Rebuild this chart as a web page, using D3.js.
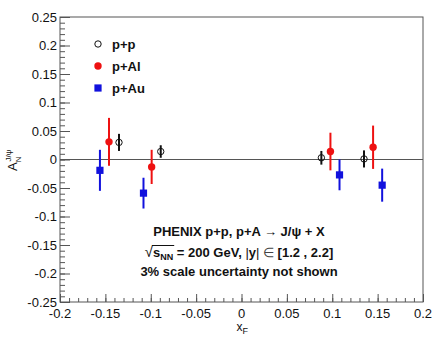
<!DOCTYPE html>
<html>
<head>
<meta charset="utf-8">
<script src="https://cdn.jsdelivr.net/npm/d3@7"></script>
<style>
  body { margin: 0; background: #fff; }
  text { font-family: "Liberation Sans", Arial, sans-serif; }
</style>
</head>
<body>
<script>
// x_F bins (slightly shifted per system, as in the plot)
const ppX = [-0.135, -0.089, 0.088, 0.135]
const ppA = [0.030, 0.014, 0.003, 0.001]
const ppErr = [0.015, 0.011, 0.012, 0.015]

const pAlX = [-0.146, -0.099, 0.098, 0.145]
const pAlA = [0.031, -0.013, 0.014, 0.0215]
const pAlErr = [0.042, 0.030, 0.033, 0.038]

const pAuX = [-0.156, -0.108, 0.108, 0.155]
const pAuA = [-0.019, -0.059, -0.027, -0.045]
const pAuErr = [0.036, 0.027, 0.027, 0.029]

const legendNames = ['p+p', 'p+Al', 'p+Au']
const xTicks = [-0.2, -0.15, -0.1, -0.05, 0, 0.05, 0.1, 0.15, 0.2]
const yTicks = [-0.25, -0.2, -0.15, -0.1, -0.05, 0, 0.05, 0.1, 0.15, 0.2, 0.25]

const W = 435, H = 344
const margin = { top: 17, right: 12, bottom: 42, left: 60 }

const svg = d3.select('body').append('svg')
  .attr('width', W).attr('height', H)

const x = d3.scaleLinear().domain([-0.2, 0.2]).range([margin.left, W - margin.right])
const y = d3.scaleLinear().domain([-0.25, 0.25]).range([H - margin.bottom, margin.top])

const fmt = v => v === 0 ? '0' : String(+v.toFixed(2))

// frame
svg.append('rect')
  .attr('x', x(-0.2)).attr('y', y(0.25))
  .attr('width', x(0.2) - x(-0.2)).attr('height', y(-0.25) - y(0.25))
  .attr('fill', 'none').attr('stroke', '#555').attr('stroke-width', 1)

// zero line
svg.append('line')
  .attr('x1', x(-0.2)).attr('x2', x(0.2))
  .attr('y1', y(0)).attr('y2', y(0))
  .attr('stroke', '#555').attr('stroke-width', 1.2)

// minor ticks
const xMinor = d3.range(-20, 21).map(i => i / 100)
const yMinor = d3.range(-25, 26).map(i => i / 100)

const xAxis = svg.append('g')
  .attr('transform', `translate(0,${y(-0.25)})`)
xAxis.call(d3.axisTop(x).tickValues(xMinor).tickSize(4).tickFormat(''))
xAxis.append('g').call(d3.axisTop(x).tickValues(xTicks).tickSize(8).tickFormat(''))
xAxis.selectAll('.domain').remove()
xAxis.selectAll('line').attr('stroke', '#555')
xAxis.selectAll('.xlab').data(xTicks).enter().append('text')
  .attr('x', d => x(d)).attr('y', 16)
  .attr('text-anchor', 'middle')
  .attr('font-size', 13).attr('fill', '#111')
  .text(fmt)

const yAxis = svg.append('g')
  .attr('transform', `translate(${x(-0.2)},0)`)
yAxis.call(d3.axisRight(y).tickValues(yMinor).tickSize(5).tickFormat(''))
yAxis.append('g').call(d3.axisRight(y).tickValues(yTicks).tickSize(10).tickFormat(''))
yAxis.selectAll('.domain').remove()
yAxis.selectAll('line').attr('stroke', '#555')
yAxis.selectAll('.ylab').data(yTicks).enter().append('text')
  .attr('x', -3).attr('y', d => y(d))
  .attr('dy', '0.36em')
  .attr('text-anchor', 'end')
  .attr('font-size', 13).attr('fill', '#111')
  .text(fmt)

// axis titles
const xt = svg.append('text')
  .attr('x', x(0) - 5).attr('y', 331)
  .attr('font-size', 12).attr('fill', '#111')
xt.append('tspan').text('x')
xt.append('tspan').attr('font-size', 9).attr('dy', 3).text('F')

const yt = svg.append('text')
  .attr('transform', 'translate(17,171) rotate(-90)')
  .attr('font-size', 13).attr('fill', '#111')
yt.append('tspan').text('A')
yt.append('tspan').attr('font-size', 8).attr('dy', 4).text('N')
yt.append('tspan').attr('font-size', 8).attr('dy', -10).attr('dx', -5).text('J/ψ')

// series
const series = [
  { xs: ppX, ys: ppA, es: ppErr, color: '#111', shape: 'open' },
  { xs: pAlX, ys: pAlA, es: pAlErr, color: '#ee1111', shape: 'dot' },
  { xs: pAuX, ys: pAuA, es: pAuErr, color: '#1111dd', shape: 'square' }
]

const drawMarker = (g, shape, color) => {
  if (shape === 'open') {
    g.append('circle').attr('r', 3.2)
      .attr('fill', 'none').attr('stroke', color).attr('stroke-width', 1)
  } else if (shape === 'dot') {
    g.append('circle').attr('r', 3.7).attr('fill', color)
  } else {
    g.append('rect').attr('x', -3.6).attr('y', -3.6)
      .attr('width', 7.2).attr('height', 7.2).attr('fill', color)
  }
}

series.forEach(s => {
  const pts = s.xs.map((v, i) => ({ x: v, y: s.ys[i], e: s.es[i] }))
  const g = svg.append('g')
  g.selectAll('line').data(pts).enter().append('line')
    .attr('x1', d => x(d.x)).attr('x2', d => x(d.x))
    .attr('y1', d => y(d.y + d.e)).attr('y2', d => y(d.y - d.e))
    .attr('stroke', s.color).attr('stroke-width', 2)
  pts.forEach(d => {
    drawMarker(g.append('g').attr('transform', `translate(${x(d.x)},${y(d.y)})`), s.shape, s.color)
  })
})

// legend
const leg = svg.append('g')
series.forEach((s, i) => {
  const ly = 44 + i * 22
  drawMarker(leg.append('g').attr('transform', `translate(98,${ly})`), s.shape, s.color)
  leg.append('text')
    .attr('x', 112).attr('y', ly).attr('dy', '0.36em')
    .attr('font-size', 13).attr('font-weight', 'bold').attr('fill', '#111')
    .text(legendNames[i])
})

// annotation
const cx = 239
svg.append('text')
  .attr('x', cx).attr('y', 236)
  .attr('text-anchor', 'middle')
  .attr('font-size', 13).attr('font-weight', 'bold').attr('fill', '#111')
  .text('PHENIX p+p, p+A → J/ψ + X')

const l2 = svg.append('text')
  .attr('x', cx).attr('y', 256.5)
  .attr('text-anchor', 'middle')
  .attr('font-size', 13).attr('font-weight', 'bold').attr('fill', '#111')
l2.append('tspan').attr('font-weight', 'normal').attr('font-size', 15).text('√')
l2.append('tspan').text('s')
l2.append('tspan').attr('font-size', 9).attr('dy', 3).text('NN')
l2.append('tspan').attr('dy', -3).text(' = 200 GeV,  ')
l2.append('tspan').attr('font-weight', 'normal').text('|')
l2.append('tspan').text('y')
l2.append('tspan').attr('font-weight', 'normal').text('| ')
l2.append('tspan').attr('font-weight', 'normal').attr('fill', '#444').text('∈')
l2.append('tspan').text(' [1.2 , 2.2]')

// overbar of the square root, spanning "s_NN"
const n = l2.node()
const a = n.getExtentOfChar(1)
const b = n.getExtentOfChar(3)
svg.append('line')
  .attr('x1', a.x - 1).attr('x2', b.x + b.width + 1)
  .attr('y1', 245.5).attr('y2', 245.5)
  .attr('stroke', '#111').attr('stroke-width', 1)

svg.append('text')
  .attr('x', cx).attr('y', 276)
  .attr('text-anchor', 'middle')
  .attr('font-size', 13).attr('font-weight', 'bold').attr('fill', '#111')
  .text('3% scale uncertainty not shown')
</script>
</body>
</html>
